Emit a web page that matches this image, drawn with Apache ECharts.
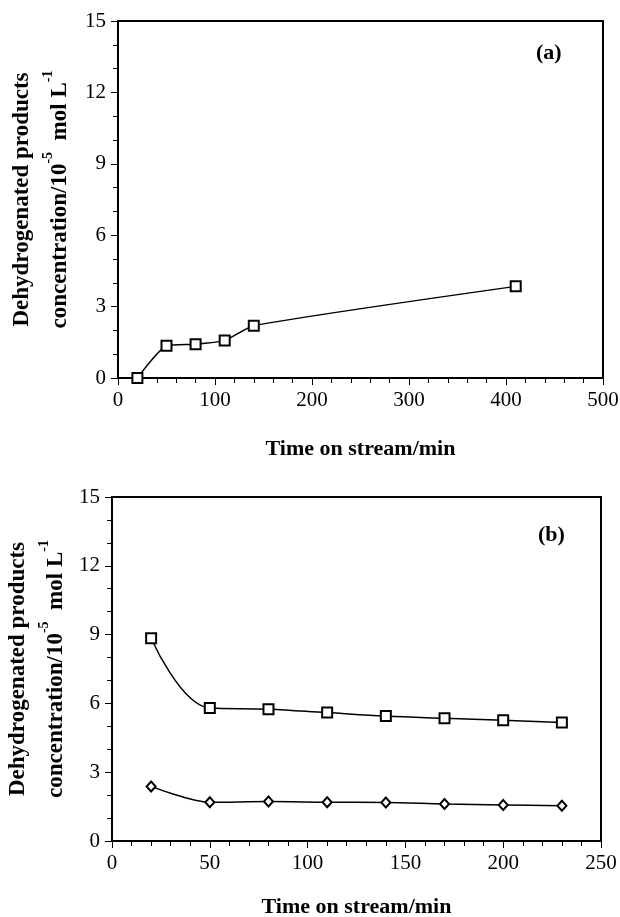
<!DOCTYPE html>
<html>
<head>
<meta charset="utf-8">
<script src="https://cdn.jsdelivr.net/npm/echarts@6/dist/echarts.min.js"></script>
<style>
  html, body { margin: 0; padding: 0; background: #fff; }
  #chart { width: 620px; height: 917px; }
</style>
</head>
<body>
<div id="chart"></div>
<script>
// panel (a)
var timeA = [20, 50, 80, 110, 140, 410];
var concA = [0, 1.35, 1.42, 1.58, 2.2, 3.85];
// panel (b)
var timeB = [20, 50, 80, 110, 140, 170, 200, 230];
var squaresB = [8.84, 5.8, 5.75, 5.6, 5.45, 5.35, 5.26, 5.17];
var diamondsB = [2.38, 1.69, 1.72, 1.69, 1.68, 1.61, 1.57, 1.54];

var xTicksA = [0, 100, 200, 300, 400, 500];
var xTicksB = [0, 50, 100, 150, 200, 250];
var yTicks = [0, 3, 6, 9, 12, 15];

var FONT = 'Liberation Serif';
var yName = 'Dehydrogenated products\nconcentration/10{sup|-5}  mol L{sup|-1}';

function pairs(xs, ys) {
  return xs.map(function (x, i) { return [x, ys[i]]; });
}

function mainX(gi, ticks, gap) {
  return {
    type: 'value', gridIndex: gi,
    min: ticks[0], max: ticks[ticks.length - 1], interval: ticks[1] - ticks[0],
    name: 'Time on stream/min', nameLocation: 'middle', nameGap: gap, nameMoveOverlap: false,
    nameTextStyle: { fontFamily: FONT, fontWeight: 'bold', fontSize: 22, color: '#000' },
    axisLine: { lineStyle: { color: '#000', width: 2 } },
    axisTick: { inside: false, length: 7, lineStyle: { color: '#000', width: 1 } },
    axisLabel: { fontFamily: FONT, fontSize: 21, color: '#000', margin: 12 },
    splitLine: { show: false }
  };
}
function mainY(gi, gap) {
  return {
    type: 'value', gridIndex: gi,
    min: yTicks[0], max: yTicks[yTicks.length - 1], interval: yTicks[1] - yTicks[0],
    name: yName, nameLocation: 'middle', nameGap: gap, nameRotate: 90, nameMoveOverlap: false,
    nameTextStyle: {
      fontFamily: FONT, fontWeight: 'bold', fontSize: 23, color: '#000', lineHeight: 38, align: 'center',
      rich: { sup: { fontFamily: FONT, fontWeight: 'bold', fontSize: 14, color: '#000', verticalAlign: 'top', lineHeight: 38, padding: [0, 0, 14, 0] } }
    },
    axisLine: { lineStyle: { color: '#000', width: 2 } },
    axisTick: { inside: false, length: 7, lineStyle: { color: '#000', width: 1 } },
    axisLabel: { fontFamily: FONT, fontSize: 21, color: '#000', margin: 12 },
    splitLine: { show: false }
  };
}
// overlay axes that only draw the small inside ticks
function minorX(gi, max, step) {
  return {
    type: 'value', gridIndex: gi, min: 0, max: max, interval: step,
    axisLine: { show: false }, axisLabel: { show: false }, splitLine: { show: false },
    axisTick: { inside: true, length: 5, lineStyle: { color: '#000', width: 1 } }
  };
}
function minorY(gi) {
  return {
    type: 'value', gridIndex: gi, min: 0, max: 15, interval: 1,
    axisLine: { show: false }, axisLabel: { show: false }, splitLine: { show: false },
    axisTick: { inside: true, length: 5, lineStyle: { color: '#000', width: 1 } }
  };
}

function lineSeries(xi, yi, data, symbol, size, smooth) {
  return {
    type: 'line', xAxisIndex: xi, yAxisIndex: yi, data: data,
    smooth: smooth, symbol: symbol, symbolSize: size, showSymbol: true,
    lineStyle: { color: '#000', width: 1.5 },
    itemStyle: { color: '#fff', borderColor: '#000', borderWidth: 2 },
    z: 5
  };
}

var option = {
  backgroundColor: '#fff',
  animation: false,
  grid: [
    { left: 118, right: 17, top: 21, bottom: 539, outerBoundsMode: 'none', show: true, borderColor: '#000', borderWidth: 2 },
    { left: 112, right: 19, top: 497, bottom: 76, outerBoundsMode: 'none', show: true, borderColor: '#000', borderWidth: 2 }
  ],
  xAxis: [
    mainX(0, xTicksA, 60),
    mainX(1, xTicksB, 55),
    minorX(0, 500, 20),
    minorX(1, 250, 10)
  ],
  yAxis: [
    mainY(0, 39),
    mainY(1, 37),
    minorY(0),
    minorY(1)
  ],
  graphic: [
    { type: 'text', left: 536, top: 42, style: { text: '(a)', fontFamily: FONT, fontWeight: 'bold', fontSize: 22, fill: '#000' } },
    { type: 'text', left: 538, top: 524, style: { text: '(b)', fontFamily: FONT, fontWeight: 'bold', fontSize: 22, fill: '#000' } }
  ],
  series: [
    lineSeries(0, 0, pairs(timeA, concA), 'rect', 10, 0.2),
    lineSeries(1, 1, pairs(timeB, squaresB), 'rect', 10, 0.4),
    lineSeries(1, 1, pairs(timeB, diamondsB), 'diamond', [9, 10], 0.3)
  ]
};

var chart = echarts.init(document.getElementById('chart'));
chart.setOption(option);
</script>
</body>
</html>
